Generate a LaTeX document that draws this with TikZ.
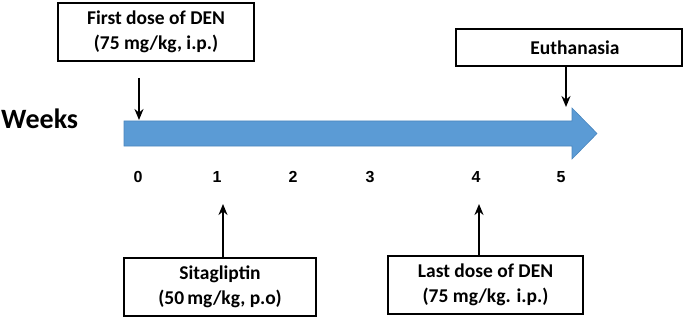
\documentclass[tikz,border=0pt]{standalone}
\usepackage{fontspec}
\setmainfont{Carlito}
\newfontfamily\arialf{Liberation Sans}
\usetikzlibrary{arrows.meta}
\definecolor{tlblue}{HTML}{5B9BD5}
\definecolor{tlblueedge}{HTML}{4A86BE}
\begin{document}
\begin{tikzpicture}[x=1pt,y=-1pt,
  evbox/.style={draw=black, line width=1.3pt, fill=white, inner sep=0pt, align=center, font=\bfseries\fontsize{19.5}{25}\selectfont},
  evarrow/.style={line width=2.8pt, -{Stealth[length=11pt,width=9pt]}},
  wk/.style={font=\arialf\bfseries\fontsize{16}{18}\selectfont, inner sep=0pt}]
\useasboundingbox (0,0) rectangle (685,318);
% timeline arrow
\path[fill=tlblue, draw=tlblueedge, line width=0.6pt]
  (124,121) -- (572,121) -- (572,108) -- (597,133.5) -- (572,159) -- (572,146) -- (124,146) -- cycle;
\coordinate (t0) at (139,120);
\coordinate (t5) at (566,107);
\coordinate (t1) at (223,204);
\coordinate (t4) at (479,204);
\node[font=\bfseries\fontsize{28}{30}\selectfont, anchor=west, inner sep=0pt] (weeks) at (1,119) {Weeks};
% boxes
\node[evbox, minimum width=196pt, minimum height=58pt] (first) at (156,32) {First dose of DEN\\(75 mg/kg, i.p.)};
\node[evbox, minimum width=226pt, minimum height=37pt] (euth) at (569,47.5) {\hspace*{12pt}Euthanasia};
\node[evbox, minimum width=192pt, minimum height=58pt] (sita) at (220,287) {Sitagliptin\\(50\,mg/kg, p.o)};
\node[evbox, minimum width=195pt, minimum height=58pt] (last) at (485.5,285) {Last dose of DEN\\(75 mg/kg. i.p.)};
% week labels
\node[wk] (w0) at (138,177) {0};
\node[wk] (w1) at (217,177) {1};
\node[wk] (w2) at (293,177) {2};
\node[wk] (w3) at (370,177) {3};
\node[wk] (w4) at (476,177) {4};
\node[wk] (w5) at (561,177) {5};
% arrows
\coordinate (a0) at (139,78);
\draw[evarrow] (a0) -- (t0);
\draw[evarrow] (euth.south -| t5) -- (t5);
\draw[evarrow] (sita.north -| t1) -- (t1);
\draw[evarrow] (last.north -| t4) -- (t4);
\end{tikzpicture}
\end{document}
